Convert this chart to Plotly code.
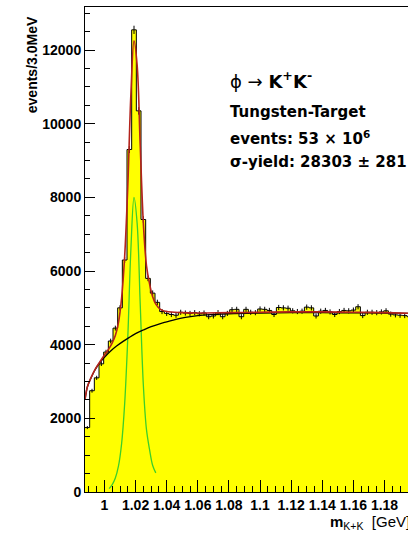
import numpy as np
import plotly.graph_objects as go

# --- K+K- invariant mass histogram (3 MeV bins) ---
bin_lo = 0.9875
bin_width = 0.003
counts = [1750, 2750, 3100, 3480, 3800, 4100, 4450, 5000, 6300, 9300,
          12550, 10350, 7400, 5800, 5400, 5150, 4900, 4850, 4820, 4800,
          4880, 4860, 4850, 4870, 4840, 4860, 4760, 4780, 4870, 4760,
          4850, 4950, 4960, 4760, 4960, 4880, 4870, 4970, 4960, 4930,
          4820, 5010, 5000, 4990, 4920, 4900, 4910, 5020, 5000, 4780,
          4910, 4930, 4890, 4820, 4900, 4930, 4920, 4940, 5030, 4790,
          4880, 4880, 4870, 4890, 4920, 4830, 4810, 4800, 4790, 4760]

# --- fitted phi signal (green) ---
sig_x = [1.003, 1.005, 1.007, 1.009, 1.011, 1.013, 1.015, 1.017, 1.019,
         1.021, 1.023, 1.025, 1.027, 1.029, 1.031, 1.033]
sig_y = [90, 200, 380, 700, 1300, 2400, 4200, 6600, 8000,
         7300, 5100, 2900, 1700, 1150, 720, 520]

# --- fitted background (black) ---
bg_x = [0.9875, 0.989, 0.991, 0.994, 0.997, 1.000, 1.004, 1.008, 1.012, 1.016,
        1.020, 1.025, 1.030, 1.035, 1.040, 1.046, 1.052, 1.060, 1.070, 1.080,
        1.100, 1.120, 1.140, 1.160, 1.180, 1.197]
bg_y = [2500, 2850, 3060, 3320, 3510, 3660, 3830, 3970, 4090, 4200,
        4300, 4400, 4490, 4560, 4620, 4690, 4740, 4790, 4820, 4840,
        4860, 4870, 4870, 4865, 4855, 4850]

# --- total fit, signal + background (red) ---
fit_x = [0.9875, 0.989, 0.991, 0.994, 0.997, 1.000, 1.003, 1.005, 1.007, 1.009,
         1.011, 1.013, 1.015, 1.017, 1.019, 1.021, 1.023, 1.025, 1.027, 1.029,
         1.031, 1.033, 1.036, 1.040, 1.050, 1.060, 1.080, 1.100, 1.120, 1.140,
         1.160, 1.180, 1.197]
fit_y = [2500, 2850, 3070, 3330, 3530, 3720, 3900, 4050, 4250, 4600,
         5250, 6400, 8300, 10800, 12250, 11600, 9400, 7300, 6150, 5650,
         5300, 5100, 4960, 4900, 4870, 4860, 4870, 4880, 4890, 4890,
         4880, 4870, 4850]

x_tick_vals = [1.0, 1.02, 1.04, 1.06, 1.08, 1.1, 1.12, 1.14, 1.16, 1.18]
x_tick_text = ["1", "1.02", "1.04", "1.06", "1.08", "1.1", "1.12", "1.14", "1.16", "1.18"]
y_tick_vals = [0, 2000, 4000, 6000, 8000, 10000, 12000]
y_tick_text = ["0", "2000", "4000", "6000", "8000", "10000", "12000"]

x_range = [0.9875, 1.1951]
y_range = [0, 13170]

counts_arr = np.array(counts, dtype=float)
edges = bin_lo + bin_width * np.arange(len(counts) + 1)
centers = edges[:-1] + bin_width / 2

fig = go.Figure()

# filled step histogram
fig.add_trace(go.Scatter(
    x=edges, y=np.append(counts_arr, counts_arr[-1]),
    mode="lines", line=dict(color="black", width=1, shape="hv"),
    fill="tozeroy", fillcolor="#ffff00", hoverinfo="skip"))

# statistical error bars
fig.add_trace(go.Scatter(
    x=centers, y=counts_arr, mode="markers",
    marker=dict(size=1, color="black", opacity=0),
    error_y=dict(type="data", array=np.sqrt(counts_arr), color="black",
                 thickness=1, width=0)))

fig.add_trace(go.Scatter(x=sig_x, y=sig_y, mode="lines",
                         line=dict(color="#3ccf2a", width=1.3, shape="spline")))
fig.add_trace(go.Scatter(x=bg_x, y=bg_y, mode="lines",
                         line=dict(color="black", width=1.3, shape="spline")))
fig.add_trace(go.Scatter(x=fit_x, y=fit_y, mode="lines",
                         line=dict(color="#b4231c", width=1.6, shape="spline")))

axis_font = dict(family="Liberation Sans", size=14, color="black", weight="bold")

fig.update_xaxes(
    range=x_range, showgrid=False, zeroline=False,
    showline=True, linecolor="black", linewidth=1, mirror=True,
    ticks="inside", ticklen=12, tickcolor="black", tickwidth=1,
    tickvals=x_tick_vals, ticktext=x_tick_text, tickfont=axis_font,
    minor=dict(dtick=0.005, tick0=1.0, ticks="inside", ticklen=6,
               tickcolor="black", tickwidth=1, showgrid=False))
fig.update_yaxes(
    range=y_range, showgrid=False, zeroline=False,
    showline=True, linecolor="black", linewidth=1, mirror=False,
    ticks="inside", ticklen=10, tickcolor="black", tickwidth=1,
    tickvals=y_tick_vals, ticktext=y_tick_text, tickfont=axis_font,
    minor=dict(dtick=500, tick0=0, ticks="inside", ticklen=5,
               tickcolor="black", tickwidth=1, showgrid=False))

text_font = dict(family="DejaVu Sans", size=15, color="black", weight="bold")

fig.update_layout(
    width=408, height=534,
    margin=dict(l=85, r=0, t=7, b=42),
    paper_bgcolor="white", plot_bgcolor="white",
    showlegend=False,
    annotations=[
        dict(x=0.443, y=0.85, xref="paper", yref="paper", xanchor="left",
             yanchor="middle", showarrow=False,
             text="\u03d5 \u2192 <b>K<sup>+</sup>K<sup>-</sup></b>",
             font=dict(family="DejaVu Sans", size=18, color="black")),
        dict(x=0.443, y=0.7835, xref="paper", yref="paper", xanchor="left",
             yanchor="middle", showarrow=False,
             text="Tungsten-Target", font=text_font),
        dict(x=0.443, y=0.73, xref="paper", yref="paper", xanchor="left",
             yanchor="middle", showarrow=False,
             text="events: 53 \u00d7 10<sup>6</sup>", font=text_font),
        dict(x=0.443, y=0.681, xref="paper", yref="paper", xanchor="left",
             yanchor="middle", showarrow=False,
             text="\u03c3-yield: 28303 \u00b1 281", font=text_font),
        dict(x=-0.164, y=0.880, xref="paper", yref="paper", xanchor="center",
             yanchor="middle", showarrow=False, textangle=-90,
             text="events/3.0MeV", font=axis_font),
        dict(x=1.0124, y=-0.062, xref="paper", yref="paper", xanchor="right",
             yanchor="middle", showarrow=False,
             text="<b>m</b><sub>K+K</sub>  [GeV]",
             font=dict(family="Liberation Sans", size=15, color="black")),
    ],
)

fig.write_html("out.html")
